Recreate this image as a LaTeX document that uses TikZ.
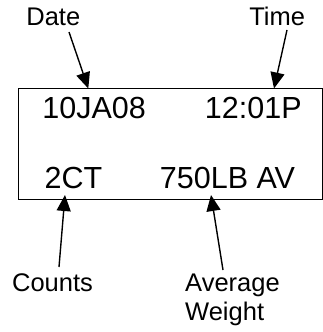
\documentclass[tikz,border=0pt]{standalone}
\usepackage{fontspec}
\setmainfont{Liberation Sans}
\usetikzlibrary{arrows.meta}
\begin{document}
\begin{tikzpicture}[x=1pt,y=-1pt,
  disp/.style={inner sep=0pt,anchor=base,font=\fontsize{30.5}{34}\selectfont},
  lab/.style={inner sep=0pt,anchor=base,font=\fontsize{25.5}{28.5}\selectfont},
  pointer/.style={line width=1.4pt,-{Triangle[length=16pt,width=14pt]}},
  screen/.style={draw,line width=1.3pt,inner sep=0pt,minimum width=304pt,minimum height=111pt}]
\useasboundingbox (0,0) rectangle (323,332);
\node[screen] (box) at (170.2,144) {};
\node[disp] (date) at (94.2,118.3) {10JA08};
\node[disp] (time) at (253.3,118.3) {12:01P};
\node[disp] (count) at (73.4,188.3) {2CT};
\node[disp] (avg) at (227.5,188.3) {750LB AV};
\node[lab] (dateL) at (53.3,25) {Date};
\node[lab] (timeL) at (277.2,25) {Time};
\node[lab] (countL) at (52.5,291.7) {Counts};
\node[lab,anchor=base west,align=left] (avgL) at (185,320.2) {Average\\Weight};
\coordinate (d1) at (69,32);
\coordinate (d2) at (88.3,88.5);
\coordinate (t1) at (287,30);
\coordinate (t2) at (274,88.5);
\coordinate (c1) at (59,267);
\coordinate (c2) at (65,195);
\coordinate (a1) at (223,270);
\coordinate (a2) at (211,195);
\draw[pointer] (d1) -- (d2);
\draw[pointer] (t1) -- (t2);
\draw[pointer] (c1) -- (c2);
\draw[pointer] (a1) -- (a2);
\end{tikzpicture}
\end{document}
